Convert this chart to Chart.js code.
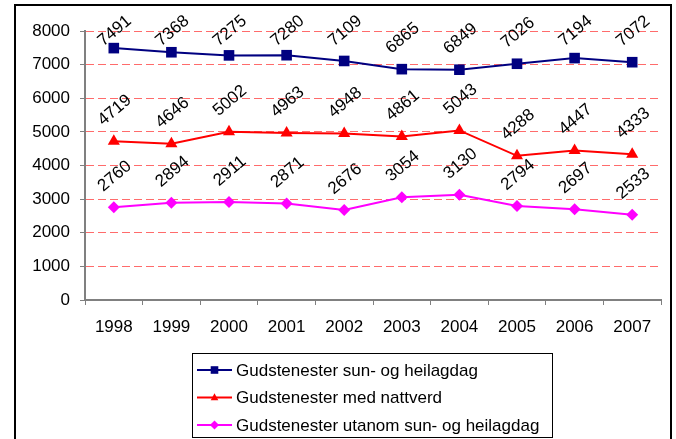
<!DOCTYPE html>
<html><head><meta charset="utf-8">
<script src="https://cdn.jsdelivr.net/npm/chart.js@4/dist/chart.umd.min.js"></script>
<style>html,body{margin:0;padding:0;background:#fff;}#wrap{width:676px;height:439px;}canvas{display:block;}</style>
</head><body><div id="wrap"><canvas id="c" width="676" height="439"></canvas></div>
<script>
const years = ['1998','1999','2000','2001','2002','2003','2004','2005','2006','2007'];
const sundayServices = [7491, 7368, 7275, 7280, 7109, 6865, 6849, 7026, 7194, 7072];
const communionServices = [4719, 4646, 5002, 4963, 4948, 4861, 5043, 4288, 4447, 4333];
const weekdayServices = [2760, 2894, 2911, 2871, 2676, 3054, 3130, 2794, 2697, 2533];
const seriesNames = ['Gudstenester sun- og heilagdag', 'Gudstenester med nattverd', 'Gudstenester utanom sun- og heilagdag'];
const seriesColors = ['#000080', '#FF0000', '#FF00FF'];
const seriesMarkers = ['rect', 'triangle', 'rectRot'];
const yMin = 0, yMax = 8000, yStep = 1000;

const FONT = '"Liberation Sans", Arial, sans-serif';
const FS = 17;
const fontObj = {family: FONT, size: FS};

function marker(ctx, type, x, y, s) {
  ctx.beginPath();
  if (type === 'rect') { ctx.rect(x - s, y - s, 2 * s, 2 * s); }
  else if (type === 'triangle') { ctx.moveTo(x, y - s * 1.15); ctx.lineTo(x + s, y + s * 0.75); ctx.lineTo(x - s, y + s * 0.75); ctx.closePath(); }
  else { ctx.moveTo(x, y - s * 1.2); ctx.lineTo(x + s * 1.2, y); ctx.lineTo(x, y + s * 1.2); ctx.lineTo(x - s * 1.2, y); ctx.closePath(); }
  ctx.fill();
}

const framePlugin = {
  id: 'frame',
  beforeDraw(chart) {
    const ctx = chart.ctx;
    ctx.save();
    ctx.fillStyle = '#fff';
    ctx.fillRect(0, 0, chart.width, chart.height);
    ctx.strokeStyle = '#000';
    ctx.lineWidth = 2;
    ctx.beginPath();
    ctx.moveTo(15, 460); ctx.lineTo(15, 5); ctx.lineTo(671, 5); ctx.lineTo(671, 460);
    ctx.stroke();
    ctx.restore();
  }
};

const labelPlugin = {
  id: 'rotLabels',
  afterDatasetsDraw(chart) {
    const ctx = chart.ctx;
    ctx.save();
    ctx.font = FS + 'px ' + FONT;
    ctx.fillStyle = '#000';
    ctx.textAlign = 'center';
    ctx.textBaseline = 'middle';
    chart.data.datasets.forEach((ds, i) => {
      const meta = chart.getDatasetMeta(i);
      meta.data.forEach((pt, j) => {
        const cy = Math.max(pt.y - 31, 31);
        ctx.save();
        ctx.translate(pt.x + 1, cy);
        ctx.rotate(-40 * Math.PI / 180);
        ctx.fillText(String(ds.data[j]), 0, 0);
        ctx.restore();
      });
    });
    ctx.restore();
  }
};

const legendPlugin = {
  id: 'boxLegend',
  afterDraw(chart) {
    const ctx = chart.ctx;
    ctx.save();
    ctx.strokeStyle = '#000';
    ctx.lineWidth = 1;
    ctx.strokeRect(192.5, 353.5, 360, 84);
    ctx.font = FS + 'px ' + FONT;
    ctx.textAlign = 'left';
    ctx.textBaseline = 'middle';
    chart.data.datasets.forEach((ds, i) => {
      const y = 370 + i * 27.5;
      ctx.strokeStyle = ds.borderColor;
      ctx.lineWidth = 2;
      ctx.beginPath(); ctx.moveTo(197, y); ctx.lineTo(232, y); ctx.stroke();
      ctx.fillStyle = ds.borderColor;
      marker(ctx, seriesMarkers[i], 214.5, y, 3.8);
      ctx.fillStyle = '#000';
      ctx.fillText(ds.label, 236, y + 1);
    });
    ctx.restore();
  }
};

const seriesData = [sundayServices, communionServices, weekdayServices];
const pointRadii = [7.5, 7, 6];

new Chart(document.getElementById('c'), {
  type: 'line',
  data: {
    labels: years,
    datasets: seriesData.map((d, i) => ({
      label: seriesNames[i],
      data: d,
      borderColor: seriesColors[i],
      backgroundColor: seriesColors[i],
      pointBackgroundColor: seriesColors[i],
      pointBorderColor: seriesColors[i],
      pointStyle: seriesMarkers[i],
      pointRadius: pointRadii[i],
      pointBorderWidth: 0,
      borderWidth: 2,
      tension: 0,
      clip: false
    }))
  },
  options: {
    responsive: false,
    devicePixelRatio: 1,
    animation: false,
    layout: {padding: {left: 0, right: 15, top: 31, bottom: 99}},
    plugins: {legend: {display: false}, tooltip: {enabled: false}},
    scales: {
      x: {
        type: 'category',
        offset: true,
        grid: {offset: true, drawOnChartArea: false, color: '#808080', tickColor: '#808080', tickLength: 5, lineWidth: 1},
        border: {display: true, color: '#808080', width: 2},
        ticks: {font: fontObj, color: '#000', padding: 12, maxRotation: 0, autoSkip: false},
        afterFit(s) { s.height = 40; }
      },
      y: {
        min: yMin, max: yMax,
        ticks: {stepSize: yStep, font: fontObj, color: '#000', padding: 10, callback: (v) => String(v)},
        grid: {
          color: (c) => (c.tick && c.tick.value === 0) ? 'rgba(0,0,0,0)' : 'rgba(255,70,70,0.8)',
          lineWidth: 1, tickLength: 5, tickColor: '#808080', tickBorderDash: []
        },
        border: {display: true, color: '#808080', width: 2, dash: [8, 4]},
        afterFit(s) { s.width = 85; }
      }
    }
  },
  plugins: [framePlugin, labelPlugin, legendPlugin]
});
</script>
</body></html>
